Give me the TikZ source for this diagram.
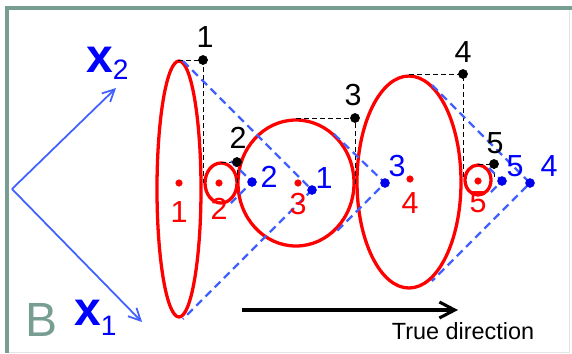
\documentclass[tikz,border=0pt]{standalone}
\usepackage{fontspec}
\setmainfont{Liberation Sans}
\usetikzlibrary{arrows.meta}
\definecolor{frameteal}{RGB}{120,158,148}
\definecolor{axisblue}{RGB}{64,96,255}
\definecolor{dotblue}{RGB}{0,0,235}

\tikzset{
  ell/.style={red, line width=2.8pt},
  tangent/.style={axisblue, line width=1.9pt, dash pattern=on 2.4mm off 1.5mm},
  boxline/.style={black, line width=0.7pt, dash pattern=on 1.5mm off 0.9mm},
  num/.style={font=\fontsize{26}{26}\selectfont, inner sep=0pt},
  big/.style={font=\fontsize{41}{41}\selectfont, inner sep=0pt, anchor=base west},
}

\begin{document}
\begin{tikzpicture}[x=0.03cm, y=-0.03cm]
    \useasboundingbox (0,0) rectangle (572,353);

    % Rahmen
    \fill[frameteal] (5,6) rectangle (572,10);
    \fill[frameteal] (5,6) rectangle (9,353);
    \draw[gray!20, line width=0.4pt] (9,352) -- (569,352) -- (569,10);
    \node[big, text=frameteal] (blab) at (25,336) {B};

    % Achsen x1, x2
    \coordinate (o) at (12,189);
    \coordinate (xa) at (142,322);
    \coordinate (xb) at (116,88);
    \draw[axisblue, line width=1.5pt, -{Straight Barb[length=3.6mm, width=3.6mm]}] (o) -- (xb);
    \draw[axisblue, line width=1.5pt, -{Straight Barb[length=3.6mm, width=3.6mm]}] (o) -- (xa);
    \node[big, text=blue] (xblab) at (86,72) {\bfseries x\raisebox{-6pt}{\fontsize{24}{24}\selectfont\mdseries 2}};
    \node[big, text=blue] (xalab) at (74,325) {\bfseries x\raisebox{-9pt}{\fontsize{24}{24}\selectfont\mdseries 1}};

    % Ellipsen
    \draw[ell] (179,189) ellipse [x radius=22, y radius=128];
    \draw[ell] (221,183) ellipse [x radius=16, y radius=20];
    \draw[ell] (296,183) ellipse [x radius=58, y radius=63];
    \draw[ell] (409,182) ellipse [x radius=52, y radius=106];
    \draw[ell] (478,180) ellipse [x radius=13, y radius=15];

    % achsparallele Ecken (schwarz)
    \coordinate (k1) at (203,60);
    \coordinate (k2) at (237,162);
    \coordinate (k3) at (355,118);
    \coordinate (k4) at (463,74);
    \coordinate (k5) at (494,164);
    \draw[boxline] (178,60) -- (k1) -- (203,183);
    \draw[boxline] (221,162) -- (k2) -- (237,183);
    \draw[boxline] (296,118) -- (k3) -- (355,185);
    \draw[boxline] (409,74) -- (k4) -- (463,180);
    \draw[boxline] (478,164) -- (k5) -- (494,180);

    % gedrehte Ecken (blau)
    \coordinate (p1) at (312,190);
    \coordinate (p2) at (252,182);
    \coordinate (p3) at (385,183);
    \coordinate (p4) at (530,183);
    \coordinate (p5) at (502,181);
    \draw[tangent] (183,61) -- (p1) -- (183,319);
    \draw[tangent] (231,161) -- (p2) -- (231,203);
    \draw[tangent] (334,134) -- (p3) -- (334,234);
    \draw[tangent] (432,85) -- (p4) -- (432,281);
    \draw[tangent] (489,168) -- (p5) -- (489,194);

    % Punkte und Nummern
    \foreach \i/\lx/\ly in {1/205/37, 2/238/138, 3/353/95, 4/463/52, 5/495/143}
      \filldraw[black] (k\i) circle [radius=4.6] node[num] at (\lx,\ly) {\i};
    \foreach \i/\lx/\ly in {1/324/178, 2/269/177, 3/397/166, 4/549/166, 5/515/166}
      \filldraw[dotblue] (p\i) circle [radius=4.5] node[num, text=blue] at (\lx,\ly) {\i};
    \foreach \i/\x/\y/\ly in {1/179/183/212, 2/219/183/209, 3/298/183/204, 4/410/179/203, 5/478/181/202}
      \filldraw[red] (\x,\y) circle [radius=3.3] node[num] at (\x,\ly) {\i};

    % wahre Richtung
    \coordinate (ta) at (242,310);
    \coordinate (tb) at (458,310);
    \draw[line width=2.6pt, -{Straight Barb[length=4.6mm, width=4.8mm]}] (ta) -- (tb);
    \node[font=\fontsize{20}{20}\selectfont, inner sep=0pt] (tlab) at (463,331) {True direction};
\end{tikzpicture}
\end{document}
